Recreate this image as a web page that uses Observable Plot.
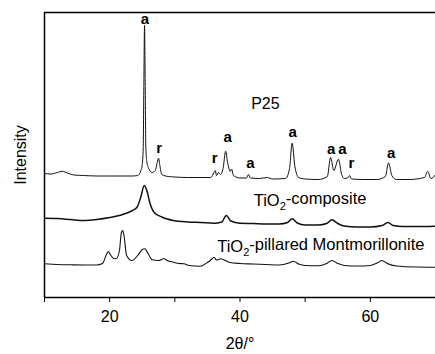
<!DOCTYPE html>
<html><head><meta charset="utf-8">
<script src="https://cdn.jsdelivr.net/npm/d3@7"></script>
<script src="https://cdn.jsdelivr.net/npm/@observablehq/plot@0.6"></script>
<style>
html,body{margin:0;padding:0;background:#fff;}
#chart{width:435px;height:354px;}
</style>
</head><body><div id="chart"></div>
<script>
// 2θ (degrees), intensity (arbitrary units, offset traces)
const p25 = [
[10,124],[11,123.5],[12,125],[12.7,126.3],[13.5,124.5],[14.5,122.5],[16,122],[18,121.5],[20,121.5],[22,121.5],[23.5,121.5],[24.3,122],[24.8,127],[25.0,133],[25.15,150],[25.25,215],[25.35,272],[25.45,215],[25.55,150],[25.7,136],[26.0,129],[26.5,125],[27.0,127],[27.3,135],[27.5,139.3],[27.7,132],[28.0,123],[29,121],[30,120.5],[32,120],[34,120],[35.5,120],[36.0,125],[36.2,127],[36.4,122],[36.7,125],[37.0,123],[37.4,129],[37.8,146.3],[38.1,135],[38.5,126],[38.7,128.5],[39.0,122],[40,119.5],[41,119.5],[41.3,123],[41.6,119.5],[43,119],[44.2,120],[45,118.5],[47,119],[47.6,129],[48.0,154.3],[48.4,132],[49,120],[50,118.5],[52,118],[53.4,121],[53.9,140],[54.4,127],[55.1,138.3],[55.6,123],[56.0,119],[56.6,120],[56.8,122],[57.1,118.5],[59,118],[61,118],[62.3,121],[62.8,134.7],[63.3,122],[64,118],[66,118],[68.3,120],[68.8,126],[69.3,119],[70,123]
];
const composite = [
[10,79.3],[12,79],[14,78],[16,77],[18,78],[20,80],[22,83],[23.5,87],[24.2,90.3],[24.8,101],[25.3,112],[25.7,107],[26.2,94],[26.8,85.3],[28,80.5],[29.8,77],[32,75.5],[34,75],[36,74.3],[37.2,75.5],[37.9,82],[38.6,76.5],[40,74.3],[42,74],[44,73.5],[46,73.5],[47.3,75],[48.0,78.7],[48.8,74.5],[50,72.5],[52,72.5],[53.3,74],[54.1,77.7],[55.0,74],[56,71.5],[58,70.5],[60,70.5],[61.8,72],[62.7,75],[63.5,72],[65,71],[67,71],[70,71.3]
];
const pillared = [
[10,33.7],[12,33],[14,32.7],[16,32.5],[18,32.5],[18.9,34],[19.5,43],[19.8,46],[20.1,43],[20.6,39],[21.0,38.7],[21.5,47],[21.8,65],[22.0,67],[22.2,62],[22.6,42],[23.4,37],[24.3,42],[25.0,48],[25.4,48.7],[25.9,44],[26.5,37.7],[27.5,37],[28.3,38.7],[29.0,36.5],[29.8,35.3],[30.6,34],[31.4,33.7],[32.2,32],[33.9,31.3],[35.0,35],[35.6,38],[36.0,40.3],[36.4,37.5],[37,38.7],[38.3,35.3],[40,34],[42,33.5],[44,33],[46,32.5],[47.5,34.5],[48.2,36.3],[49,33.5],[50,32],[52,31.7],[53.3,34],[54.1,37],[55.0,34],[56,32],[58,31.5],[60,32],[61.2,35],[61.8,37],[62.6,34],[64,31.5],[67,30.5],[70,30.3]
];
// phase labels: anatase (a), rutile (r)
const peakLabels = [
[25.4,278,"a"],[27.6,149.3,"r"],[36.1,139,"r"],[38.1,160.3,"a"],[41.6,134.3,"a"],[48.1,165.3,"a"],[54.0,148.7,"a"],[55.7,148.7,"a"],[57.1,134.5,"r"],[63.2,144,"a"]
];
const centerLabels = [[43.9,193.7,"P25"]];
const startLabels = [[42.1,97,"TiO2-composite"],[36.5,51,"TiO2-pillared Montmorillonite"]];
const xTicks = [10,20,30,40,50,60,70];
const xTickLabels = [20,40,60];

const plot = Plot.plot({
  width: 435, height: 354,
  marginLeft: 44, marginRight: 0, marginTop: 12, marginBottom: 57,
  style: {fontFamily: "'Liberation Sans', Arial, sans-serif", color: "#000", background: "#fff"},
  x: {domain: [10,70]},
  y: {domain: [0,285]},
  marks: [
    Plot.axisX({ticks: xTicks, tickSize: 5, tickPadding: 8, fontSize: 16,
      tickFormat: d => xTickLabels.includes(d) ? String(d) : "",
      label: "2θ/°", labelAnchor: "center", labelArrow: "none", labelOffset: 51}),
    Plot.axisY({ticks: [], label: "Intensity", labelAnchor: "center", labelArrow: "none", labelOffset: 30, fontSize: 16}),
    Plot.ruleX([10], {stroke: "#000", strokeWidth: 1.5}),
    Plot.ruleY([0], {stroke: "#000", strokeWidth: 1.5}),
    Plot.ruleY([285], {stroke: "#000", strokeWidth: 1.5}),
    Plot.line(p25, {x: d => d[0], y: d => d[1], stroke: "#111", strokeWidth: 1, curve: "monotone-x"}),
    Plot.line(composite, {x: d => d[0], y: d => d[1], stroke: "#111", strokeWidth: 1.5, curve: "monotone-x"}),
    Plot.line(pillared, {x: d => d[0], y: d => d[1], stroke: "#111", strokeWidth: 1.1, curve: "monotone-x"}),
    Plot.text(peakLabels, {x: d => d[0], y: d => d[1], text: d => d[2], fontSize: 15, fontWeight: "bold", fill: "#000"}),
    Plot.text(centerLabels, {x: d => d[0], y: d => d[1], text: d => d[2], textAnchor: "middle", fontSize: 16, fill: "#000"}),
    Plot.text(startLabels, {x: d => d[0], y: d => d[1], text: d => d[2], textAnchor: "start", fontSize: 16.5, fill: "#000"})
  ]
});
plot.querySelectorAll("text").forEach(t => {
  const s = t.textContent;
  if (s.startsWith("TiO2")) {
    const ns = "http://www.w3.org/2000/svg";
    t.textContent = "";
    const a = document.createElementNS(ns, "tspan"); a.textContent = "TiO";
    const b = document.createElementNS(ns, "tspan"); b.textContent = "2"; b.setAttribute("dy", "0.35em"); b.setAttribute("font-size", "11");
    const c = document.createElementNS(ns, "tspan"); c.textContent = s.slice(4); c.setAttribute("dy", "-0.35em");
    t.append(a, b, c);
  }
});
document.getElementById("chart").append(plot);
</script>
</body></html>
